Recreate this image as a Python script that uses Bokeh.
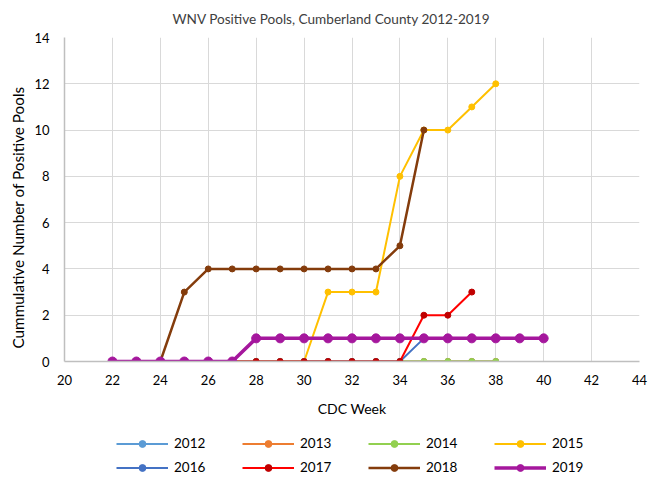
from bokeh.plotting import figure
from bokeh.models import Range1d, Legend, LegendItem, FixedTicker, Title
from bokeh.layouts import column
from bokeh.embed import file_html
from bokeh.resources import INLINE

# ---- data ----
weeks_2012 = list(range(22, 39))
vals_2012 = [0] * 17
weeks_2013 = list(range(22, 39))
vals_2013 = [0] * 17
weeks_2014 = list(range(22, 39))
vals_2014 = [0] * 17
weeks_2015 = list(range(22, 39))
vals_2015 = [0, 0, 0, 0, 0, 0, 0, 0, 0, 3, 3, 3, 8, 10, 10, 11, 12]
weeks_2016 = list(range(22, 39))
vals_2016 = [0, 0, 0, 0, 0, 0, 0, 0, 0, 0, 0, 0, 0, 1, 1, 1, 1]
weeks_2017 = list(range(22, 38))
vals_2017 = [0, 0, 0, 0, 0, 0, 0, 0, 0, 0, 0, 0, 0, 2, 2, 3]
weeks_2018 = list(range(22, 36))
vals_2018 = [0, 0, 0, 3, 4, 4, 4, 4, 4, 4, 4, 4, 5, 10]
weeks_2019 = list(range(22, 41))
vals_2019 = [0, 0, 0, 0, 0, 0, 1, 1, 1, 1, 1, 1, 1, 1, 1, 1, 1, 1, 1]

x_ticks = list(range(20, 45, 2))
y_ticks = list(range(0, 15, 2))

FONT = "Lato"

series = [
    ("2012", weeks_2012, vals_2012, "#5B9BD5", "#5B9BD5", 2, 6),
    ("2013", weeks_2013, vals_2013, "#ED7D31", "#ED7D31", 2, 6),
    ("2014", weeks_2014, vals_2014, "#92D050", "#92D050", 2, 6),
    ("2015", weeks_2015, vals_2015, "#FFC000", "#FFC000", 2, 6),
    ("2016", weeks_2016, vals_2016, "#4472C4", "#4472C4", 2, 6),
    ("2017", weeks_2017, vals_2017, "#FF0000", "#C00000", 2, 6),
    ("2018", weeks_2018, vals_2018, "#843C0C", "#843C0C", 2.5, 6),
    ("2019", weeks_2019, vals_2019, "#A5179D", "#A5179D", 3.5, 9),
]

# ---- main chart ----
p = figure(width=659, height=425, output_backend="svg", toolbar_location=None,
           x_range=Range1d(20, 44), y_range=Range1d(0, 14),
           min_border_left=64, min_border_right=20, min_border_top=37, min_border_bottom=64)

p.title = Title(text="WNV Positive Pools, Cumberland County 2012-2019", align="left",
                vertical_align="top", offset=108, text_font=FONT, text_font_size="13.6px",
                text_font_style="normal", text_color="#404040", standoff=18)

p.outline_line_color = None
p.background_fill_color = "white"
p.border_fill_color = "white"

for ax in (p.xaxis[0], p.yaxis[0]):
    ax.axis_line_color = "#BFBFBF"
    ax.axis_line_width = 1.5
    ax.major_tick_line_color = None
    ax.minor_tick_line_color = None
    ax.major_tick_out = 0
    ax.major_tick_in = 0
    ax.minor_tick_out = 0
    ax.minor_tick_in = 0
    ax.major_label_text_font = FONT
    ax.major_label_text_font_size = "13px"
    ax.major_label_text_color = "#000000"
    ax.axis_label_text_font = FONT
    ax.axis_label_text_font_size = "14px"
    ax.axis_label_text_font_style = "normal"
    ax.axis_label_text_color = "#000000"

p.xaxis[0].ticker = FixedTicker(ticks=x_ticks)
p.yaxis[0].ticker = FixedTicker(ticks=y_ticks)
p.xaxis[0].axis_label = "CDC Week"
p.xaxis[0].major_label_standoff = 13
p.yaxis[0].major_label_standoff = 15
p.xaxis[0].axis_label_standoff = 12

ylab = Title(text="Cummulative Number of Positive Pools", align="left", offset=13,
             text_font=FONT, text_font_size="15.3px", text_font_style="normal",
             text_color="#000000", standoff=10)
p.add_layout(ylab, "left")

p.xgrid.ticker = FixedTicker(ticks=x_ticks)
p.ygrid.ticker = FixedTicker(ticks=y_ticks)
p.grid.grid_line_color = "#D9D9D9"
p.grid.grid_line_width = 1

for name, xs, ys, lc, mc, lw, ms in series:
    p.line(xs, ys, line_color=lc, line_width=lw)
    p.scatter(xs, ys, size=ms, fill_color=mc, line_color=mc)

# ---- legend strip below the chart ----
lp = figure(width=659, height=58, output_backend="svg", toolbar_location=None,
            x_range=Range1d(100, 101), y_range=Range1d(100, 101),
            x_axis_location=None, y_axis_location=None, min_border=0)
lp.outline_line_color = None
lp.background_fill_color = "white"
lp.border_fill_color = "white"
lp.xgrid.visible = False
lp.ygrid.visible = False

items = []
for name, xs, ys, lc, mc, lw, ms in series:
    r1 = lp.line(xs, ys, line_color=lc, line_width=lw)
    r2 = lp.scatter(xs, ys, size=ms, fill_color=mc, line_color=mc)
    items.append(LegendItem(label=name, renderers=[r1, r2]))

def make_legend(its, loc):
    return Legend(items=its, orientation="horizontal", location=loc,
                  glyph_width=52, glyph_height=17, label_standoff=6, label_width=64,
                  label_height=20, spacing=4, padding=0, margin=0,
                  border_line_color=None, background_fill_alpha=0,
                  label_text_font=FONT, label_text_font_size="13.5px",
                  label_text_color="#000000")

lp.add_layout(make_legend(items[:4], (52, 30)), "center")
lp.add_layout(make_legend(items[4:], (52, 6)), "center")

layout = column(p, lp, spacing=0)
open("out.html", "w").write(file_html(layout, INLINE))
